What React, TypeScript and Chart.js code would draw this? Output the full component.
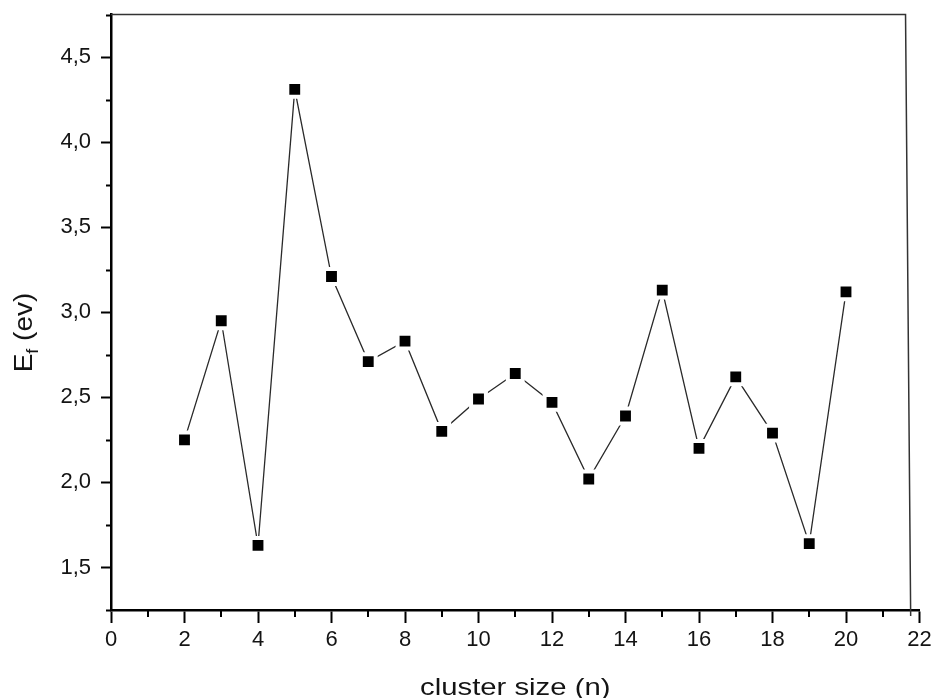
import React, { useEffect, useRef } from 'react';
import { Chart, registerables } from 'chart.js';

Chart.register(...registerables);

// ---- data ----
const clusterSizes = [2, 3, 4, 5, 6, 7, 8, 9, 10, 11, 12, 13, 14, 15, 16, 17, 18, 19, 20];
const formationEnergy = [2.25, 2.95, 1.63, 4.31, 3.21, 2.71, 2.83, 2.30, 2.49, 2.64, 2.47, 2.02, 2.39, 3.13, 2.20, 2.62, 2.29, 1.64, 3.12];

const xTitle = 'cluster size (n)';
const yTitleMain = 'E';
const yTitleSub = 'f';
const yTitleRest = ' (ev)';

const xMin = 0;
const xMax = 22;
const xMajorStep = 2;
const xMinorStep = 1;
const yMin = 1.25;
const yMax = 4.75;
const yMajorStep = 0.5;
const yMinorStep = 0.25;

// ---- style / layout ----
const FONT = "'Liberation Sans', Arial, sans-serif";
const TEXT_COLOR = '#141414';
const W = 934;
const H = 698;
const FRAME_RIGHT_TOP = 21.62; // x-value where the odd right frame line sits (top)
const FRAME_RIGHT_BOTTOM = 21.76; // (bottom)

const isMajor = (v: number, step: number) => Math.abs(v / step - Math.round(v / step)) < 1e-6;

const decorPlugin = {
  id: 'decor',
  afterDraw(chart: any) {
    const { ctx, chartArea: a, scales } = chart;
    const xs = scales.x;
    const ys = scales.y;
    ctx.save();
    // minor ticks
    ctx.strokeStyle = '#000';
    ctx.lineWidth = 2;
    ctx.beginPath();
    ys.ticks.forEach((t: any) => {
      if (!isMajor(t.value, yMajorStep)) {
        const py = Math.round(ys.getPixelForValue(t.value)) + 0.5;
        ctx.moveTo(a.left - 5, py);
        ctx.lineTo(a.left, py);
      }
    });
    xs.ticks.forEach((t: any) => {
      if (!isMajor(t.value, xMajorStep)) {
        const px = Math.round(xs.getPixelForValue(t.value));
        ctx.moveTo(px, a.bottom);
        ctx.lineTo(px, a.bottom + 7);
      }
    });
    ctx.stroke();

    // top and right frame
    ctx.strokeStyle = '#333';
    ctx.lineWidth = 1.5;
    ctx.beginPath();
    const xr1 = xs.getPixelForValue(FRAME_RIGHT_TOP);
    const xr2 = xs.getPixelForValue(FRAME_RIGHT_BOTTOM);
    ctx.moveTo(a.left, a.top);
    ctx.lineTo(xr1, a.top);
    ctx.lineTo(xr2, a.bottom + 6);
    ctx.stroke();

    // x title
    ctx.fillStyle = TEXT_COLOR;
    ctx.textBaseline = 'alphabetic';
    ctx.textAlign = 'center';
    ctx.font = `24px ${FONT}`;
    ctx.save();
    ctx.translate((a.left + a.right) / 2, a.bottom + 85);
    ctx.scale(1.22, 1);
    ctx.fillText(xTitle, 0, 0);
    ctx.restore();

    // y title (rotated, with subscript)
    ctx.save();
    ctx.translate(32, a.top + 318);
    ctx.rotate(-Math.PI / 2);
    ctx.scale(1.12, 1);
    ctx.textAlign = 'left';
    const mainFont = `25px ${FONT}`;
    const subFont = `16px ${FONT}`;
    ctx.font = mainFont;
    const wE = ctx.measureText(yTitleMain).width;
    const wRest = ctx.measureText(yTitleRest).width;
    ctx.font = subFont;
    const wSub = ctx.measureText(yTitleSub).width;
    const total = wE + wSub + wRest;
    let cx = -total / 2;
    ctx.font = mainFont;
    ctx.fillText(yTitleMain, cx, 0);
    cx += wE;
    ctx.font = subFont;
    ctx.fillText(yTitleSub, cx, 6);
    cx += wSub;
    ctx.font = mainFont;
    ctx.fillText(yTitleRest, cx, 0);
    ctx.restore();

    ctx.restore();
  },
};

export default function App() {
  const canvasRef = useRef<HTMLCanvasElement | null>(null);

  useEffect(() => {
    const canvas = canvasRef.current;
    if (!canvas) return;
    const points = clusterSizes.map((x, i) => ({ x, y: formationEnergy[i] }));
    const chart = new Chart(canvas, {
      type: 'line',
      data: {
        datasets: [
          {
            data: points,
            borderColor: '#2a2a2a',
            borderWidth: 1.3,
            pointStyle: 'rect',
            pointRadius: 10.5,
            pointHoverRadius: 10.5,
            pointBackgroundColor: '#000',
            pointBorderColor: '#fff',
            pointBorderWidth: 4,
            tension: 0,
            fill: false,
          },
        ],
      },
      options: {
        responsive: false,
        animation: false,
        devicePixelRatio: 1,
        events: [],
        layout: { padding: { left: 0, right: 14, top: 14, bottom: 0 } },
        plugins: {
          legend: { display: false },
          tooltip: { enabled: false },
          title: { display: false },
        },
        scales: {
          x: {
            type: 'linear',
            min: xMin,
            max: xMax,
            afterFit: (s: any) => {
              s.height = 88;
              s.paddingLeft = 0;
              s.paddingRight = 0;
              s.paddingTop = 0;
              s.paddingBottom = 0;
            },
            border: { display: true, color: '#000', width: 2.5 },
            grid: {
              display: true,
              drawOnChartArea: false,
              drawTicks: true,
              tickLength: 13,
              tickWidth: 2,
              tickColor: (c: any) => (c.tick && isMajor(c.tick.value, xMajorStep) ? '#000' : 'rgba(0,0,0,0)'),
            },
            ticks: {
              stepSize: xMinorStep,
              autoSkip: false,
              maxTicksLimit: 100,
              maxRotation: 0,
              minRotation: 0,
              padding: 4,
              color: TEXT_COLOR,
              font: { family: FONT, size: 22 },
              callback: (v: any) => (isMajor(Number(v), xMajorStep) ? String(Math.round(Number(v))) : ''),
            },
          },
          y: {
            type: 'linear',
            min: yMin,
            max: yMax,
            afterFit: (s: any) => {
              s.width = 111;
              s.paddingLeft = 0;
              s.paddingRight = 0;
              s.paddingTop = 0;
              s.paddingBottom = 0;
            },
            border: { display: true, color: '#000', width: 2.5 },
            grid: {
              display: true,
              drawOnChartArea: false,
              drawTicks: true,
              tickLength: 10,
              tickWidth: 2,
              tickColor: (c: any) => (c.tick && isMajor(c.tick.value, yMajorStep) ? '#000' : 'rgba(0,0,0,0)'),
            },
            ticks: {
              stepSize: yMinorStep,
              autoSkip: false,
              maxTicksLimit: 100,
              padding: 10,
              color: TEXT_COLOR,
              font: { family: FONT, size: 22 },
              callback: (v: any) =>
                isMajor(Number(v), yMajorStep) ? Number(v).toFixed(1).replace('.', ',') : '',
            },
          },
        },
      },
      plugins: [decorPlugin],
    });
    return () => chart.destroy();
  }, []);

  return (
    <div style={{ position: 'fixed', left: 0, top: 0, width: W, height: H, background: '#fff' }}>
      <canvas ref={canvasRef} width={W} height={H} style={{ display: 'block', width: W, height: H }} />
    </div>
  );
}
